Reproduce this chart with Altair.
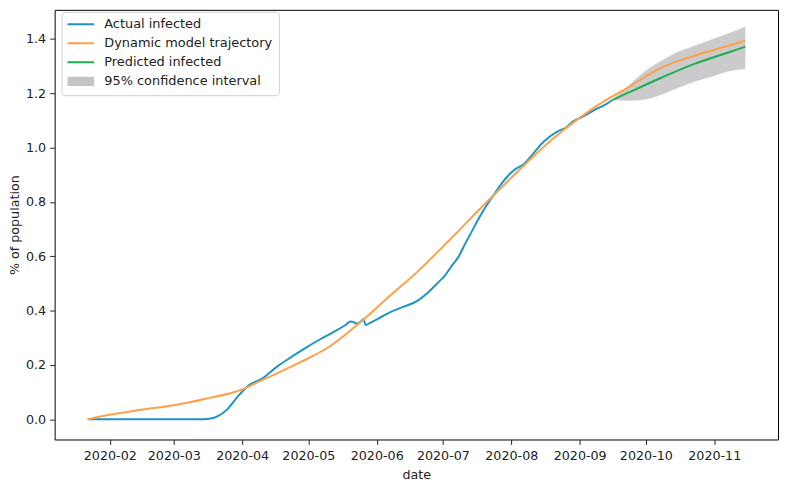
import altair as alt
import pandas as pd

# ---------------- data ----------------
series_names = ["Actual infected", "Dynamic model trajectory",
                "Predicted infected", "95% confidence interval"]
series_colors = ["#1f94c4", "#ffa047", "#1fae4f", "#c4c4c4"]

actual_dates = [
    "2020-01-22", "2020-03-12", "2020-03-17", "2020-03-21", "2020-03-25",
    "2020-03-30", "2020-04-04", "2020-04-10", "2020-04-17", "2020-04-23",
    "2020-04-30", "2020-05-06", "2020-05-12", "2020-05-18", "2020-05-20",
    "2020-05-22", "2020-05-23", "2020-05-25", "2020-05-26", "2020-05-27",
    "2020-05-29", "2020-06-02", "2020-06-07", "2020-06-13", "2020-06-19",
    "2020-06-24", "2020-06-29", "2020-07-02", "2020-07-05", "2020-07-08",
    "2020-07-11", "2020-07-14", "2020-07-18", "2020-07-21", "2020-07-24",
    "2020-07-28", "2020-08-02", "2020-08-07", "2020-08-11", "2020-08-16",
    "2020-08-22", "2020-08-26", "2020-08-29", "2020-09-02", "2020-09-08",
    "2020-09-13", "2020-09-16",
]
actual_values = [
    0.0, 0.0, 0.002, 0.012, 0.035,
    0.084, 0.125, 0.150, 0.195, 0.228,
    0.264, 0.293, 0.319, 0.348, 0.360,
    0.356, 0.352, 0.362, 0.368, 0.347,
    0.355, 0.372, 0.394, 0.414, 0.434,
    0.465, 0.505, 0.530, 0.565, 0.597,
    0.645, 0.690, 0.750, 0.790, 0.825,
    0.872, 0.916, 0.942, 0.979, 1.024,
    1.060, 1.075, 1.097, 1.112, 1.140,
    1.160, 1.176,
]

model_dates = [
    "2020-01-22", "2020-02-01", "2020-02-15", "2020-03-01", "2020-03-15",
    "2020-04-01", "2020-04-11", "2020-04-26", "2020-05-11", "2020-05-25",
    "2020-06-08", "2020-06-19", "2020-07-04", "2020-07-19", "2020-08-03",
    "2020-08-16", "2020-08-24", "2020-09-08", "2020-09-23", "2020-10-08",
    "2020-10-23", "2020-11-07", "2020-11-15",
]
model_values = [
    0.0, 0.017, 0.035, 0.052, 0.075,
    0.110, 0.148, 0.205, 0.270, 0.360,
    0.462, 0.540, 0.660, 0.784, 0.905,
    1.005, 1.060, 1.150, 1.222, 1.294,
    1.338, 1.374, 1.393,
]

pred_dates = ["2020-09-16", "2020-09-23", "2020-10-08", "2020-10-23",
              "2020-11-07", "2020-11-15"]
pred_values = [1.176, 1.202, 1.257, 1.308, 1.349, 1.371]

ci_dates = ["2020-09-16", "2020-09-23", "2020-10-01", "2020-10-08",
            "2020-10-15", "2020-10-23", "2020-10-31", "2020-11-07",
            "2020-11-15"]
ci_lower = [1.175, 1.173, 1.178, 1.195, 1.218, 1.243, 1.262, 1.280, 1.290]
ci_upper = [1.177, 1.227, 1.283, 1.319, 1.350, 1.374, 1.398, 1.418, 1.444]

y_ticks = [0.0, 0.2, 0.4, 0.6, 0.8, 1.0, 1.2, 1.4]

# ---------------- tables ----------------
lines_df = pd.concat([
    pd.DataFrame({"date": actual_dates, "value": actual_values,
                  "series": series_names[0]}),
    pd.DataFrame({"date": model_dates, "value": model_values,
                  "series": series_names[1]}),
    pd.DataFrame({"date": pred_dates, "value": pred_values,
                  "series": series_names[2]}),
], ignore_index=True)
ci_df = pd.DataFrame({"date": ci_dates, "lower": ci_lower, "upper": ci_upper})

FONT = "DejaVu Sans"
FS = 12.8

x_axis = alt.Axis(
    values=[alt.DateTime(year=2020, month=m, date=1, utc=True) for m in range(2, 12)],
    labelExpr="utcFormat(datum.value, '%Y-%m')",
)
x_scale = alt.Scale(
    type="utc",
    domain=[alt.DateTime(year=2020, month=1, date=7, utc=True),
            alt.DateTime(year=2020, month=11, date=29, hours=22, utc=True)],
)
y_scale = alt.Scale(domain=[-0.0741, 1.507], nice=False, zero=False)
y_axis = alt.Axis(values=y_ticks, format=".1f")

band = alt.Chart(ci_df).mark_area(
    color="gray", opacity=0.4, interpolate="monotone",
    stroke="gray", strokeWidth=0.8, strokeOpacity=0.5,
).encode(
    x=alt.X("date:T", title="date", scale=x_scale, axis=x_axis),
    y=alt.Y("lower:Q", scale=y_scale, title="% of population", axis=y_axis),
    y2="upper:Q",
)

lines = alt.Chart(lines_df).mark_line(strokeWidth=2, interpolate="monotone").encode(
    x=alt.X("date:T", title="date", scale=x_scale, axis=x_axis),
    y=alt.Y("value:Q", scale=y_scale, title="% of population", axis=y_axis),
    color=alt.Color(
        "series:N",
        scale=alt.Scale(domain=series_names, range=series_colors),
        legend=alt.Legend(
            title=None, orient="none", legendX=7, legendY=2,
            direction="vertical",
            symbolType="stroke", symbolSize=1640,
            symbolStrokeWidth=alt.ExprRef(
                expr="datum.label == '95% confidence interval' ? 9.5 : 2"),
            labelFont=FONT, labelFontSize=13, labelColor="#222222",
            labelOffset=24, labelLimit=400,
            strokeColor="#d0d0d0", fillColor="white",
            cornerRadius=3, padding=6, rowPadding=5.2, clipHeight=13,
        ),
    ),
    order=alt.Order("date:T"),
)

chart = alt.layer(band, lines).properties(
    width=729, height=433,
    autosize=alt.AutoSizeParams(type="none"),
    padding={"left": 47, "top": 0, "right": 4, "bottom": 44},
).configure_view(
    stroke="black", strokeWidth=1,
).configure_axis(
    grid=False, domain=False,
    labelFont=FONT, labelFontSize=FS, labelColor="#222222",
    titleFont=FONT, titleFontSize=FS, titleFontWeight="normal", titleColor="#222222",
    tickColor="#222222", tickSize=5, tickWidth=1,
).configure_axisX(
    labelPadding=5, titlePadding=6,
).configure_axisY(
    labelPadding=4, titlePadding=4,
)

chart.save("out.html", embed_options={"renderer": "svg", "actions": False})
